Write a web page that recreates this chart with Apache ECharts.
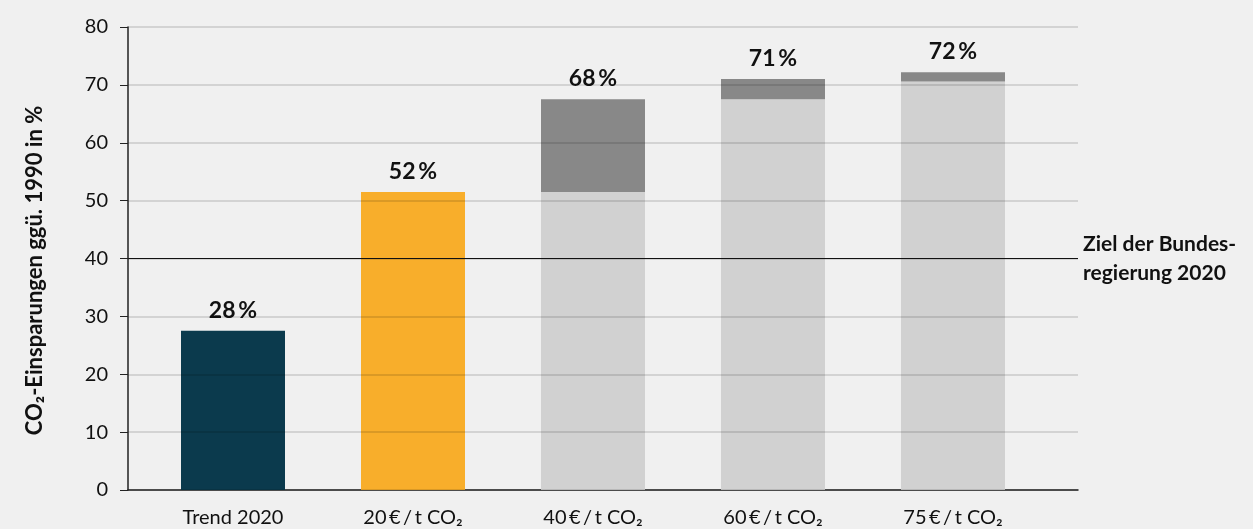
<!DOCTYPE html>
<html>
<head>
<meta charset="utf-8">
<script src="https://cdn.jsdelivr.net/npm/echarts@6/dist/echarts.min.js"></script>
<style>
  html, body { margin: 0; padding: 0; background: #f0f0f0; }
  #chart { width: 1253px; height: 529px; }
</style>
</head>
<body>
<div id="chart"></div>
<script>
// Daten
const categories = ['Trend 2020', '20\u2009€\u2009/\u2009t CO₂', '40\u2009€\u2009/\u2009t CO₂', '60\u2009€\u2009/\u2009t CO₂', '75\u2009€\u2009/\u2009t CO₂']
const baseValues = [27.5, 51.5, 51.5, 67.5, 70.6]
const extraValues = [0, 0, 16, 3.5, 1.6]
const totalLabels = ['28\u2009%', '52\u2009%', '68\u2009%', '71\u2009%', '72\u2009%']
const targetValue = 40
const targetLabel = 'Ziel der Bundes-\nregierung 2020'

const baseColors = ['#0b3a4d', '#f8ae2b', '#d1d1d1', '#d1d1d1', '#d1d1d1']
const font = 'Lato, sans-serif'

let mychart = echarts.init(document.getElementById('chart'))

let option = {
  backgroundColor: '#f0f0f0',
  textStyle: { fontFamily: font },
  grid: [
    // Achsen + Gitterlinien
    { left: 128, right: 175, top: 27, bottom: 39 },
    // Balken
    { left: 143, right: 210, top: 27, bottom: 39 }
  ],
  xAxis: [
    {
      type: 'category',
      gridIndex: 0,
      data: categories,
      axisLine: { lineStyle: { color: '#222', width: 1.5 } },
      axisTick: { show: false },
      axisLabel: { show: false }
    },
    {
      type: 'category',
      gridIndex: 1,
      data: categories,
      axisLine: { show: false },
      axisTick: { show: false },
      axisLabel: { color: '#111', fontSize: 20, margin: 18, fontFamily: font }
    }
  ],
  yAxis: [
    {
      type: 'value',
      gridIndex: 0,
      min: 0,
      max: 80,
      interval: 10,
      z: 5,
      name: 'CO₂-Einsparungen ggü. 1990 in %',
      nameLocation: 'middle',
      nameGap: 82,
      nameTextStyle: {
        fontSize: 22,
        fontWeight: 'bold',
        color: '#111',
        fontFamily: font,
        padding: [0, 24, 0, 0]
      },
      axisLine: { show: true, lineStyle: { color: '#222', width: 1.5 } },
      axisTick: { show: true, length: 8, lineStyle: { color: '#222' } },
      axisLabel: { color: '#111', fontSize: 20, margin: 20, fontFamily: font },
      splitLine: { lineStyle: { color: 'rgba(0,0,0,0.16)', width: 1.5 } }
    },
    {
      type: 'value',
      gridIndex: 1,
      min: 0,
      max: 80,
      show: false,
      splitLine: { show: false }
    }
  ],
  series: [
    {
      name: 'Ziel',
      type: 'line',
      xAxisIndex: 0,
      yAxisIndex: 0,
      data: [],
      z: 6,
      markLine: {
        symbol: 'none',
        silent: true,
        lineStyle: { color: '#111', width: 1.2, type: 'solid' },
        label: {
          position: 'end',
          formatter: targetLabel,
          color: '#111',
          fontSize: 21,
          fontWeight: 'bold',
          lineHeight: 29,
          distance: 5,
          align: 'left',
          fontFamily: font
        },
        data: [{ yAxis: targetValue }]
      }
    },
    {
      name: 'Basis',
      type: 'bar',
      xAxisIndex: 1,
      yAxisIndex: 1,
      stack: 'gesamt',
      barWidth: 104,
      data: baseValues.map((v, i) => ({ value: v, itemStyle: { color: baseColors[i] } }))
    },
    {
      name: 'Zusatz',
      type: 'bar',
      xAxisIndex: 1,
      yAxisIndex: 1,
      stack: 'gesamt',
      barWidth: 104,
      itemStyle: { color: '#888888' },
      data: extraValues,
      label: {
        show: true,
        position: 'top',
        distance: 9,
        color: '#111',
        fontSize: 23,
        fontWeight: 'bold',
        fontFamily: font,
        formatter: (p) => totalLabels[p.dataIndex]
      }
    }
  ]
}
mychart.setOption(option)
</script>
</body>
</html>
